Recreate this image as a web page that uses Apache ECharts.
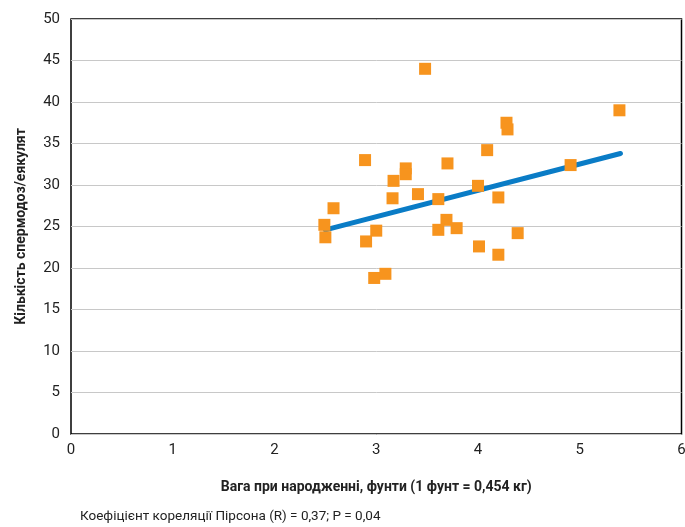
<!DOCTYPE html>
<html><head><meta charset="utf-8">
<script src="https://cdn.jsdelivr.net/npm/echarts@6/dist/echarts.min.js"></script>
<style>html,body{margin:0;padding:0;background:#fff}#c{width:685px;height:527px}</style>
</head><body><div id="c"></div>
<script>
const weights = [3.48,5.39,4.28,4.29,4.09,2.89,3.70,4.91,3.29,3.29,3.17,4.00,3.16,3.41,3.61,4.20,2.58,2.49,2.50,3.00,2.90,3.69,3.61,3.79,4.39,4.01,4.20,2.98,3.09];
const counts  = [44.0,39.0,37.5,36.7,34.2,33.0,32.6,32.4,32.0,31.3,30.5,29.9,28.4,28.9,28.3,28.5,27.2,25.2,23.7,24.5,23.2,25.8,24.6,24.8,24.2,22.6,21.6,18.8,19.3];
const trendX = [2.5, 5.4];
const trendY = [24.6, 33.8];
const xTitle = 'Вага при народженні, фунти (1 фунт = 0,454 кг)';
const yTitle = 'Кількість спермодоз/еякулят';
const note = 'Коефіцієнт кореляції Пірсона (R) = 0,37; P = 0,04';

const FONT = '"Roboto", sans-serif';
const chart = echarts.init(document.getElementById('c'));
chart.setOption({
  animation: false,
  grid: {left: 71, right: 3.5, top: 19, bottom: 93, show: true, borderColor: '#000', borderWidth: 1.5,
    backgroundColor: 'transparent', containLabel: false, outerBoundsMode: 'none'},
  xAxis: {type: 'value', min: 0, max: 6, interval: 1,
    axisLine: {show: false}, axisTick: {show: false}, splitLine: {show: false},
    axisLabel: {color: '#222', fontSize: 15, fontFamily: FONT, margin: 9, alignMinLabel: 'center', alignMaxLabel: 'center'},
    name: xTitle, nameLocation: 'middle', nameGap: 46,
    nameTextStyle: {color: '#222', fontSize: 14, fontWeight: 'bold', fontFamily: FONT}},
  yAxis: {type: 'value', min: 0, max: 50, interval: 5,
    axisLine: {show: false}, axisTick: {show: false},
    splitLine: {show: true, lineStyle: {color: '#c8c8c8', width: 1}},
    axisLabel: {color: '#222', fontSize: 15, fontFamily: FONT, margin: 11},
    name: yTitle, nameLocation: 'middle', nameGap: 43,
    nameTextStyle: {color: '#222', fontSize: 14, fontWeight: 'bold', fontFamily: FONT}},
  graphic: [{type: 'text', left: 80, top: 510, style: {text: note, fill: '#222', font: '13.5px ' + FONT}}],
  series: [
    {type: 'line', data: trendX.map((x, i) => [x, trendY[i]]), symbol: 'none',
     lineStyle: {color: '#0a7cc6', width: 5, cap: 'round'}, z: 2},
    {type: 'scatter', data: weights.map((x, i) => [x, counts[i]]), symbol: 'rect', symbolSize: 12,
     itemStyle: {color: '#f7941e', opacity: 1}, z: 3}
  ]
});
</script></body></html>
